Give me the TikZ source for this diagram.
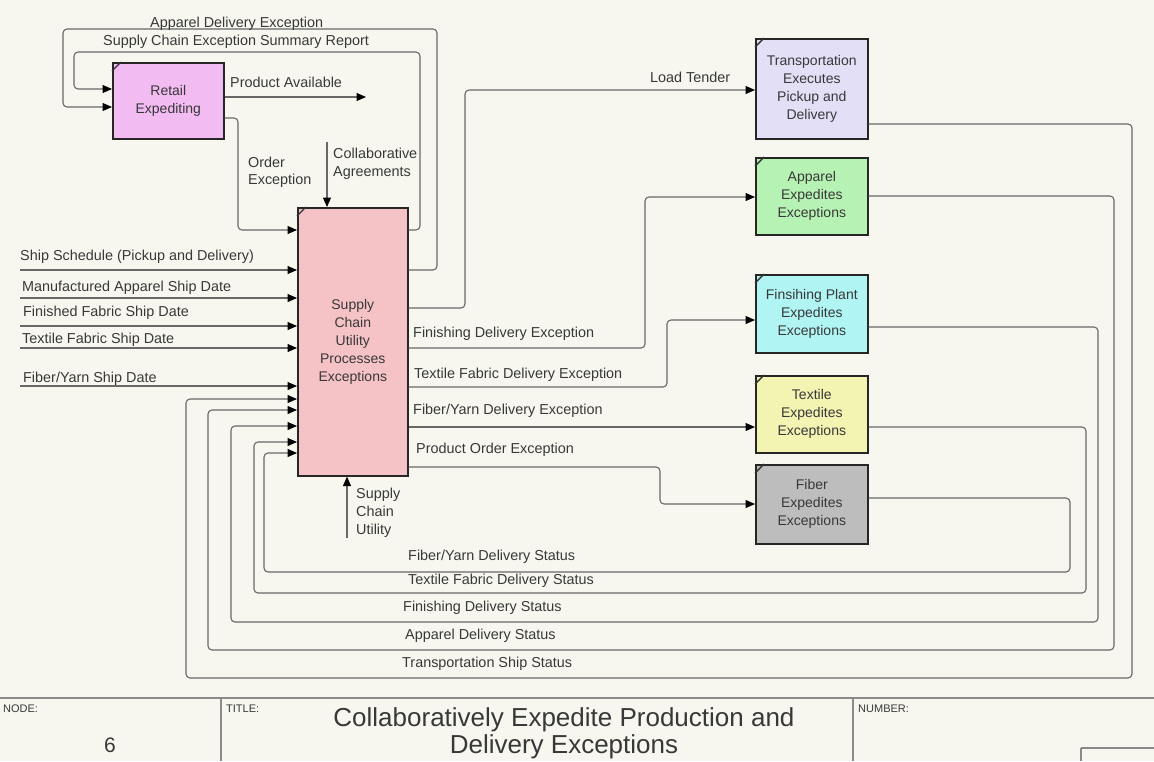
\documentclass[tikz,border=0pt]{standalone}
\usepackage{fontspec}
\setmainfont{Liberation Sans}
\usetikzlibrary{arrows.meta,calc}

\definecolor{paper}{HTML}{F7F7F0}
\definecolor{wirec}{HTML}{686868}
\definecolor{ink}{HTML}{383838}
\definecolor{cRetail}{HTML}{F2BCF2}
\definecolor{cMain}{HTML}{F5C3C5}
\definecolor{cTrans}{HTML}{E2DFF6}
\definecolor{cApp}{HTML}{B6F2B4}
\definecolor{cFin}{HTML}{B0F4F4}
\definecolor{cTex}{HTML}{F3F3B2}
\definecolor{cFib}{HTML}{BDBDBD}
\definecolor{frame}{HTML}{8A8A8A}

\begin{document}
\begin{tikzpicture}[x=1pt,y=-1pt,
  box/.style={draw=black!85, line width=1.6pt, anchor=north west, inner sep=0pt,
    align=center, text=ink, font=\fontsize{14}{18}\selectfont},
  wire/.style={draw=wirec, line width=1.1pt, rounded corners=4pt},
  arr/.style={wire, -{Triangle[length=9.5pt,width=8pt,color=black]}},
  lbl/.style={anchor=base west, inner sep=0pt, text=ink, font=\fontsize{14.4}{17}\selectfont},
  small/.style={anchor=base west, inner sep=0pt, text=ink, font=\fontsize{11}{12}\selectfont},
  tick/.style={draw=black!80, line width=1.4pt}
]
\fill[paper] (0,0) rectangle (1154,761);
\useasboundingbox (0,0) rectangle (1154,761);

% ---- activity boxes ----
\node[box, fill=cRetail, minimum width=111pt, minimum height=76pt]  (retail) at (112,62)  {Retail\\Expediting};
\node[box, fill=cMain,   minimum width=110pt, minimum height=268pt] (main)   at (297,207) {Supply\\Chain\\Utility\\Processes\\Exceptions};
\node[box, fill=cTrans,  minimum width=112pt, minimum height=100pt] (trans)  at (755,38)  {Transportation\\Executes\\Pickup and\\Delivery};
\node[box, fill=cApp,    minimum width=112pt, minimum height=77pt]  (app)    at (755,157) {Apparel\\Expedites\\Exceptions};
\node[box, fill=cFin,    minimum width=112pt, minimum height=78pt]  (fin)    at (755,274) {Finsihing Plant\\Expedites\\Exceptions};
\node[box, fill=cTex,    minimum width=112pt, minimum height=77pt]  (tex)    at (755,375) {Textile\\Expedites\\Exceptions};
\node[box, fill=cFib,    minimum width=112pt, minimum height=79pt]  (fib)    at (755,464) {Fiber\\Expedites\\Exceptions};

% corner marks
\foreach \b in {retail,main,trans,app,fin,tex,fib}
  \draw[tick] ($(\b.north west)+(0,9)$) -- ($(\b.north west)+(9,0)$);

% ---- feedback to retail ----
\draw[arr] ($(main.north east)+(0,63)$) -- (437,270) -- (437,29) -- (63,29) -- (63,107) -- ($(retail.north west)+(0,45)$);
\draw[arr] ($(main.north east)+(0,23)$) -- (420,230) -- (420,52) -- (74,52) -- (74,89) -- ($(retail.north west)+(0,27)$);
\node[lbl] (lade) at (150,27) {Apparel Delivery Exception};
\node[lbl] (lscr) at (103,45) {Supply Chain Exception Summary Report};

% ---- retail outputs ----
\coordinate (paEnd) at (366,97);
\draw[arr] ($(retail.north east)+(0,35)$) -- (paEnd);
\node[lbl] (lpa) at (230,87) {Product Available};
\draw[arr] ($(retail.north east)+(0,56)$) -- (238,118) -- (238,230) -- ($(main.north west)+(0,23)$);
\node[lbl] (loe1) at (248,167) {Order};
\node[lbl] (loe2) at (248,184) {Exception};

% ---- control and mechanism ----
\coordinate (caStart) at (327,142);
\draw[arr] (caStart) -- (caStart |- main.north);
\node[lbl] (lca1) at (333,158) {Collaborative};
\node[lbl] (lca2) at (333,176) {Agreements};
\coordinate (scuStart) at (347,538);
\draw[arr] (scuStart) -- (scuStart |- main.south);
\node[lbl] (lsc1) at (356,498) {Supply};
\node[lbl] (lsc2) at (356,516) {Chain};
\node[lbl] (lsc3) at (356,534) {Utility};

% ---- external inputs ----
\foreach \n/\yy in {1/270,2/298,3/326,4/348,5/386}{
  \coordinate (in\n) at (20,\yy);
  \draw[arr] (in\n) -- (in\n -| main.west);
}
\node[lbl] (lin1) at (20,260) {Ship Schedule (Pickup and Delivery)};
\node[lbl] (lin2) at (22,291) {Manufactured Apparel Ship Date};
\node[lbl] (lin3) at (23,316) {Finished Fabric Ship Date};
\node[lbl] (lin4) at (22,343) {Textile Fabric Ship Date};
\node[lbl] (lin5) at (23,382) {Fiber/Yarn Ship Date};

% ---- exceptions sent out ----
\draw[arr] ($(main.north east)+(0,101)$) -- (465,308) -- (465,90) -- ($(trans.north west)+(0,52)$);
\node[lbl] (llt) at (650,82) {Load Tender};
\draw[arr] ($(main.north east)+(0,141)$) -- (645,348) -- (645,197) -- ($(app.north west)+(0,40)$);
\node[lbl] (lfde) at (413,337) {Finishing Delivery Exception};
\draw[arr] ($(main.north east)+(0,180)$) -- (667,387) -- (667,320) -- ($(fin.north west)+(0,46)$);
\node[lbl] (ltde) at (414,378) {Textile Fabric Delivery Exception};
\draw[arr] ($(main.north east)+(0,220)$) -- ($(tex.north west)+(0,52)$);
\node[lbl] (lyde) at (413,414) {Fiber/Yarn Delivery Exception};
\draw[arr] ($(main.north east)+(0,260)$) -- (660,467) -- (660,504) -- ($(fib.north west)+(0,40)$);
\node[lbl] (lpoe) at (416,453) {Product Order Exception};

% ---- status returned ----
\draw[arr] ($(trans.north east)+(0,86)$) -- (1132,124) -- (1132,678) -- (186,678) -- (186,399) -- ($(main.north west)+(0,192)$);
\draw[arr] ($(app.north east)+(0,39)$)   -- (1114,196) -- (1114,650) -- (208,650) -- (208,410) -- ($(main.north west)+(0,203)$);
\draw[arr] ($(fin.north east)+(0,53)$)   -- (1098,327) -- (1098,622) -- (231,622) -- (231,426) -- ($(main.north west)+(0,219)$);
\draw[arr] ($(tex.north east)+(0,52)$)   -- (1086,427) -- (1086,593) -- (254,593) -- (254,442) -- ($(main.north west)+(0,235)$);
\draw[arr] ($(fib.north east)+(0,34)$)   -- (1070,498) -- (1070,572) -- (264,572) -- (264,453) -- ($(main.north west)+(0,246)$);
\node[lbl] (lyds) at (408,560) {Fiber/Yarn Delivery Status};
\node[lbl] (ltds) at (408,584) {Textile Fabric Delivery Status};
\node[lbl] (lfds) at (403,611) {Finishing Delivery Status};
\node[lbl] (lads) at (405,639) {Apparel Delivery Status};
\node[lbl] (ltss) at (402,667) {Transportation Ship Status};

% ---- title block ----
\coordinate (tbL) at (0,698);
\coordinate (tbR) at (1154,698);
\draw[draw=frame, line width=2pt] (tbL) -- (tbR);
\coordinate (sep1) at (221,698);
\coordinate (sep2) at (853,698);
\draw[draw=frame, line width=1.4pt] (sep1) -- ++(0,63);
\draw[draw=frame, line width=1.4pt] (sep2) -- ++(0,63);
\coordinate (nb) at (1081,748);
\draw[draw=frame, line width=1.2pt] (nb) -- ++(73,0);
\draw[draw=frame, line width=1.2pt] (nb) -- ++(0,13);
\node[small] (lnode)  at (3,712)   {NODE:};
\node[small] (ltitle) at (226,712) {TITLE:};
\node[small] (lnum)   at (858,712) {NUMBER:};
\node[inner sep=0pt, text=ink, font=\fontsize{21}{21}\selectfont] (nodeno) at (110,745) {6};
\node[inner sep=0pt, text=ink, align=center, font=\fontsize{26}{27}\selectfont] (title) at (564,733) {Collaboratively Expedite Production and\\Delivery Exceptions};
\end{tikzpicture}
\end{document}
